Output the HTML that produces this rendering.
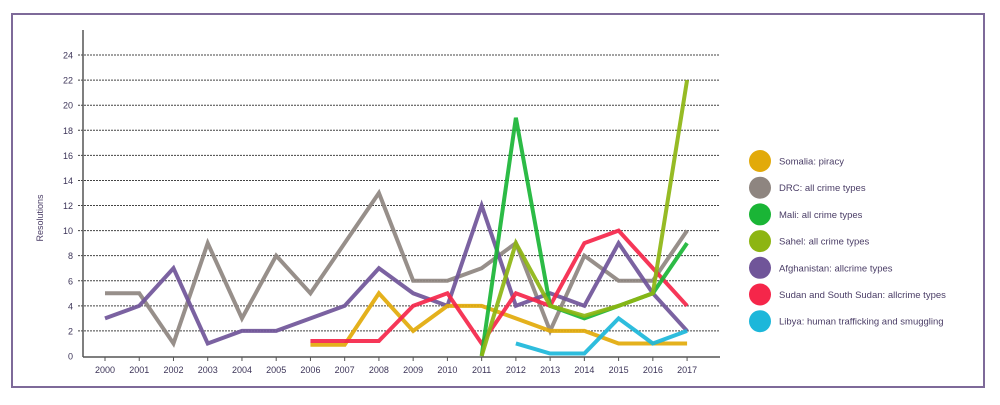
<!DOCTYPE html>
<html><head><meta charset="utf-8"><style>
body{margin:0;background:#fff;width:1000px;height:400px;overflow:hidden;font-family:"Liberation Sans",sans-serif}
</style></head><body>
<svg width="1000" height="400">
<rect x="12" y="14" width="972" height="373" fill="none" stroke="#7e6a99" stroke-width="2"/>
<g id="grid"></g><g id="lines"></g><g id="legend"></g>
<line x1="83" y1="30" x2="83" y2="357" stroke="#555" stroke-width="1.5"/>
<line x1="83" y1="357" x2="720" y2="357" stroke="#555" stroke-width="1.5"/>
<text transform="translate(43,218) rotate(-90)" text-anchor="middle" font-size="9" fill="#4a3d66">Resolutions</text>
</svg>
<script>
const years=[2000,2001,2002,2003,2004,2005,2006,2007,2008,2009,2010,2011,2012,2013,2014,2015,2016,2017];
const yTicks=[0,2,4,6,8,10,12,14,16,18,20,22,24];
const names=["Somalia: piracy","DRC: all crime types","Mali: all crime types","Sahel: all crime types","Afghanistan: allcrime types","Sudan and South Sudan: allcrime types","Libya: human trafficking and smuggling"];
const colors=["#e2aa0a","#8e8580","#1ab536","#8db512","#705599","#f5264a","#1cb7da"];
const somalia=[null,null,null,null,null,null,0.9,0.9,5,2,4,4,3,2,2,1,1,1];
const drc=[5,5,1,9,3,8,5,9,13,6,6,7,9,2,8,6,6,10];
const mali=[null,null,null,null,null,null,null,null,null,null,null,0,19,4,3,4,5,9];
const sahel=[null,null,null,null,null,null,null,null,null,null,null,0,9,4,3.2,4,5,22];
const afghanistan=[3,4,7,1,2,2,3,4,7,5,4,12,4,5,4,9,5,2];
const sudan=[null,null,null,null,null,null,1.2,1.2,1.2,4,5,1,5,4,9,10,7,4];
const libya=[null,null,null,null,null,null,null,null,null,null,null,null,1,0.2,0.2,3,1,2];
const series=[somalia,drc,mali,sahel,afghanistan,sudan,libya];
const NS="http://www.w3.org/2000/svg";
const x=i=>105+i*34.24, y=v=>356-v*12.54;
function mk(t,a,p){const e=document.createElementNS(NS,t);for(const k in a)e.setAttribute(k,a[k]);p.appendChild(e);return e;}
const grid=document.getElementById('grid');
yTicks.forEach(v=>{
 if(v>0){const l=mk('line',{x1:78,x2:720,y1:y(v),y2:y(v),stroke:'#444','stroke-width':1,'stroke-dasharray':'2,1'},grid);
 
 }
 const t=mk('text',{x:73,y:y(v)+3.5,'text-anchor':'end','font-size':9,fill:'#3c3458'},grid);t.textContent=v;
 
 
});
years.forEach((yr,i)=>{
 const l=mk('line',{x1:x(i),x2:x(i),y1:357,y2:361,stroke:'#555'},grid);
 
 
 const t=mk('text',{x:x(i),y:373,'text-anchor':'middle','font-size':9,fill:'#3c3458'},grid);t.textContent=yr;
 
 
});
const lines=document.getElementById('lines');
const order=[1,4,0,5,6,2,3];
order.forEach(s=>{
 const pts=[];series[s].forEach((v,i)=>{if(v!==null)pts.push(x(i)+','+y(v));});
 const p=mk('polyline',{points:pts.join(' '),fill:'none',stroke:colors[s],'stroke-width':4,'stroke-linejoin':'miter','stroke-opacity':0.92},lines);
 
 
});
const lg=document.getElementById('legend');
names.forEach((n,i)=>{
 const cy=161+i*26.7;
 const c=mk('circle',{cx:760,cy:cy,r:11,fill:colors[i]},lg);
 
 
 const t=mk('text',{x:779,y:cy+3.5,'font-size':9.5,fill:'#4a3d66'},lg);t.textContent=n;
 
 
});
</script>
</body></html>
